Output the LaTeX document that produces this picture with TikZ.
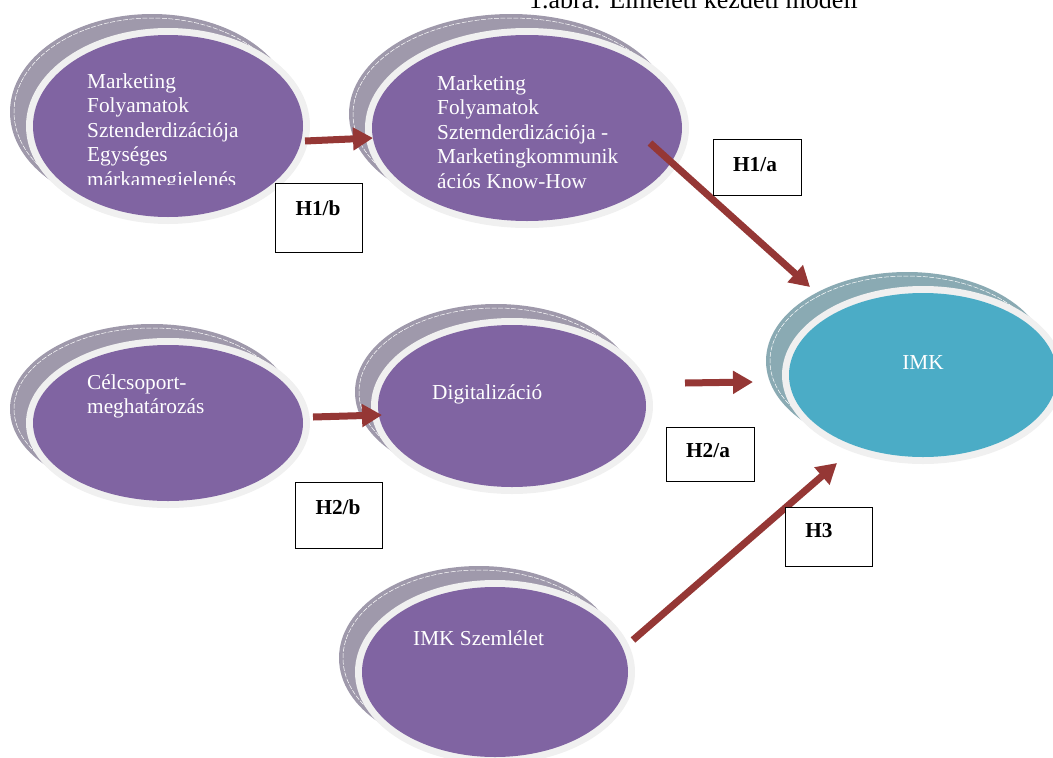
\documentclass[tikz,border=0pt]{standalone}
\usepackage{fontspec}
\setmainfont{Liberation Serif}
\usetikzlibrary{shapes.geometric,arrows.meta}
\definecolor{purp}{HTML}{8064A2}
\definecolor{purpsh}{HTML}{9F99AB}
\definecolor{ringc}{HTML}{F0F0F0}
\definecolor{imkblue}{HTML}{4BACC6}
\definecolor{imksh}{HTML}{8AAAB3}
\definecolor{arrred}{HTML}{953735}
\newcommand\mybubble[7]{%
  \node[ell, fill=#6, minimum width={2*(#4+7)}, minimum height={2*(#5+7)}] (#1sh) at (#2-16,#3-14) {};
  \node[ell, draw=white, line width=0.5pt, dash pattern=on 5pt off 1.5pt, minimum width={2*(#4+7)-8}, minimum height={2*(#5+7)-8}] (#1dl) at (#2-16,#3-14) {};
  \node[ell, fill=ringc, minimum width={2*(#4+7)}, minimum height={2*(#5+7)}] (#1ring) at (#2,#3) {};
  \node[ell, fill=#7, minimum width={2*#4}, minimum height={2*#5}] (#1) at (#2,#3) {};
}
\begin{document}
\begin{tikzpicture}[x=1pt,y=-1pt,
  ell/.style={ellipse, inner sep=0pt, outer sep=0pt},
  etext/.style={text=white, font=\fontsize{21.3}{24.5}\selectfont, align=left, inner sep=0pt, anchor=base west},
  hbox/.style={draw=black, line width=1.2pt, fill=white, inner sep=0pt, anchor=north west},
  hlabel/.style={font=\fontsize{21.3}{24}\selectfont\bfseries, inner sep=0pt, anchor=base},
  conn/.style={draw=arrred, line width=7pt, -{Triangle[width=22pt,length=20pt]}},
]
\path[use as bounding box] (0,0) rectangle (1053,758);
\clip (0,0) rectangle (1053,758);

\node[anchor=base west, inner sep=0pt, font=\fontsize{26}{30}\selectfont] (title) at (529,8) {1.ábra: Elméleti kezdeti modell};

\mybubble{e1}{168}{126}{135}{91}{purpsh}{purp}
\mybubble{e2}{527}{128}{155}{93}{purpsh}{purp}
\mybubble{imk}{923}{375}{134}{82}{imksh}{imkblue}
\mybubble{cel}{168}{423}{135}{78}{purpsh}{purp}
\mybubble{dig}{512}{406}{134}{81}{purpsh}{purp}
\mybubble{sz}{495}{672}{133}{85}{purpsh}{purp}

\begin{scope}
\clip (80,60) rectangle (300,184);
\node[etext] (t1) at (87,186) {Marketing\\Folyamatok\\Sztenderdizációja\\Egységes\\márkamegjelenés};
\end{scope}
\node[etext] (t2) at (437,188) {Marketing\\Folyamatok\\Szternderdizációja -\\Marketingkommunik\\ációs Know-How};
\node[etext, anchor=base] (timk) at (923,369) {IMK};
\node[etext] (tcel) at (87,413.5) {Célcsoport-\\meghatározás};
\node[etext] (tdig) at (432,399) {Digitalizáció};
\node[etext] (tsz) at (413,645) {IMK Szemlélet};

\coordinate (a1s) at (305,141); \coordinate (a1e) at (373,138);
\coordinate (a2s) at (650,143); \coordinate (a2e) at (810,287);
\coordinate (a3s) at (685,383); \coordinate (a3e) at (753,382);
\coordinate (a4s) at (313,417); \coordinate (a4e) at (382,415);
\coordinate (a5s) at (633,640); \coordinate (a5e) at (837,463);
\draw[conn] (a1s) -- (a1e);
\draw[conn] (a2s) -- (a2e);
\draw[conn] (a3s) -- (a3e);
\draw[conn] (a4s) -- (a4e);
\draw[conn] (a5s) -- (a5e);

\node[hbox, minimum width=87pt, minimum height=69pt] (b1b) at (275,183) {};
\node[hlabel] (l1b) at (318,215) {H1/b};
\node[hbox, minimum width=88pt, minimum height=56pt] (b1a) at (713,139) {};
\node[hlabel] (l1a) at (755,171) {H1/a};
\node[hbox, minimum width=88pt, minimum height=54pt] (b2a) at (666,427) {};
\node[hlabel] (l2a) at (708,457) {H2/a};
\node[hbox, minimum width=87pt, minimum height=66pt] (b2b) at (295,482) {};
\node[hlabel] (l2b) at (338,514) {H2/b};
\node[hbox, minimum width=87pt, minimum height=59pt] (b3) at (785,507) {};
\node[hlabel] (l3) at (819,537) {H3};
\end{tikzpicture}
\end{document}
